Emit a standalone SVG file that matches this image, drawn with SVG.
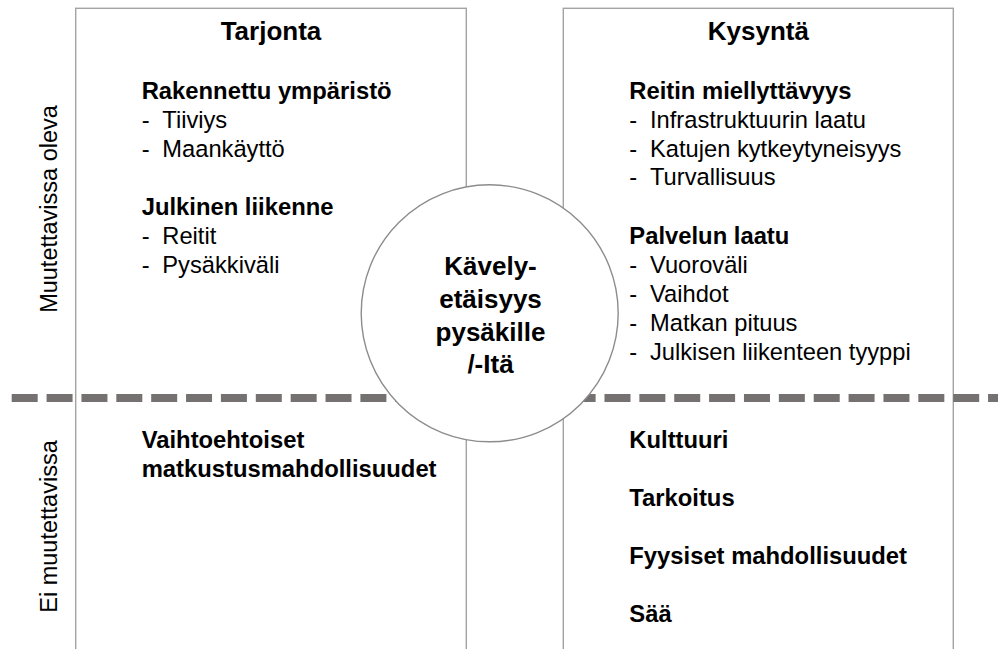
<svg xmlns="http://www.w3.org/2000/svg" width="998" height="649" viewBox="0 0 998 649">
<style>
.box{fill:none;stroke:#a3a3a3;stroke-width:1.4}
.t{font-family:"Liberation Sans",Arial,sans-serif;fill:#000}
.title{font-size:26px;font-weight:bold}
.h{font-size:23.8px;font-weight:bold}
.r{font-size:23.7px}
.side{font-size:23.5px}
.c{font-size:26px;font-weight:bold}
</style>
<rect width="998" height="649" fill="#fff"/>
<g id="tarjonta">
<rect class="box" x="75.7" y="8.3" width="390.6" height="660"/>
<text class="t title" x="271" y="40" text-anchor="middle">Tarjonta</text>
<text class="t h" x="141.7" y="99">Rakennettu ympäristö</text>
<text class="t r" x="141.7" y="128.3">-</text><text class="t r" x="162.3" y="128.3">Tiiviys</text>
<text class="t r" x="141.7" y="157">-</text><text class="t r" x="162.3" y="157">Maankäyttö</text>
<text class="t h" x="141.7" y="215">Julkinen liikenne</text>
<text class="t r" x="141.7" y="244.3">-</text><text class="t r" x="162.3" y="244.3">Reitit</text>
<text class="t r" x="141.7" y="273.3">-</text><text class="t r" x="162.3" y="273.3">Pysäkkiväli</text>
<text class="t h" x="141.7" y="447.7">Vaihtoehtoiset</text>
<text class="t h" x="141.7" y="476.7">matkustusmahdollisuudet</text>
</g>
<g id="kysynta">
<rect class="box" x="563.3" y="8.3" width="390" height="660"/>
<text class="t title" x="758.3" y="40" text-anchor="middle">Kysyntä</text>
<text class="t h" x="629.3" y="98.5">Reitin miellyttävyys</text>
<text class="t r" x="629.3" y="127.5">-</text><text class="t r" x="650" y="127.5">Infrastruktuurin laatu</text>
<text class="t r" x="629.3" y="156.5">-</text><text class="t r" x="650" y="156.5">Katujen kytkeytyneisyys</text>
<text class="t r" x="629.3" y="185.3">-</text><text class="t r" x="650" y="185.3">Turvallisuus</text>
<text class="t h" x="629.3" y="243.5">Palvelun laatu</text>
<text class="t r" x="629.3" y="273">-</text><text class="t r" x="650" y="273">Vuoroväli</text>
<text class="t r" x="629.3" y="301.7">-</text><text class="t r" x="650" y="301.7">Vaihdot</text>
<text class="t r" x="629.3" y="330.7">-</text><text class="t r" x="650" y="330.7">Matkan pituus</text>
<text class="t r" x="629.3" y="359.7">-</text><text class="t r" x="650" y="359.7">Julkisen liikenteen tyyppi</text>
<text class="t h" x="629.3" y="447.7">Kulttuuri</text>
<text class="t h" x="629.3" y="505.7">Tarkoitus</text>
<text class="t h" x="629.3" y="564.3">Fyysiset mahdollisuudet</text>
<text class="t h" x="629.3" y="622.3">Sää</text>
</g>
<g id="connectors">
<line x1="11.7" y1="398" x2="998" y2="398" stroke="#767171" stroke-width="8" stroke-dasharray="26 8.87"/>
</g>
<g id="labels">
<text class="t side" transform="translate(56.5,209) rotate(-90)" text-anchor="middle">Muutettavissa oleva</text>
<text class="t side" transform="translate(56.5,526.5) rotate(-90)" text-anchor="middle">Ei muutettavissa</text>
</g>
<g id="center">
<circle cx="489.7" cy="313.3" r="128.5" fill="#fff" stroke="#8c8c8c" stroke-width="1.4"/>
<text class="t c" x="490.5" y="274.5" text-anchor="middle">Kävely-</text>
<text class="t c" x="490.5" y="307.5" text-anchor="middle">etäisyys</text>
<text class="t c" x="490.5" y="341" text-anchor="middle">pysäkille</text>
<text class="t c" x="490.5" y="373" text-anchor="middle">/-Itä</text>
</g>
</svg>
